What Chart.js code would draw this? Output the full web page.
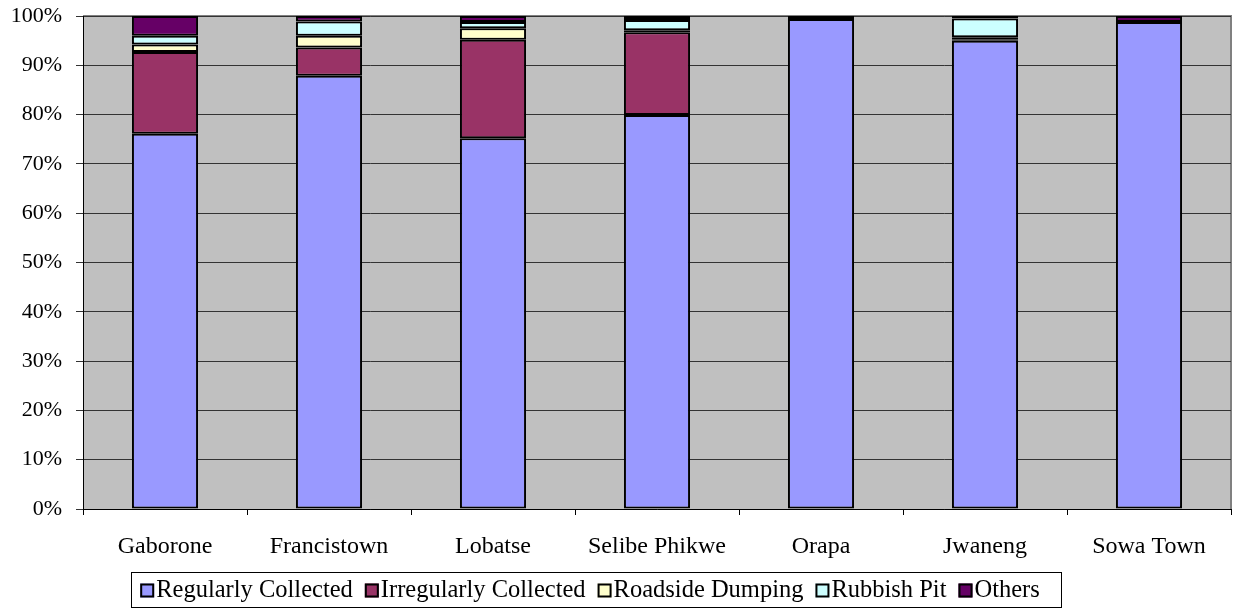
<!DOCTYPE html>
<html>
<head>
<meta charset="utf-8">
<script src="https://cdn.jsdelivr.net/npm/chart.js@4"></script>
<style>
  html, body { margin: 0; padding: 0; background: #fff; }
  #wrap { width: 1243px; height: 612px; }
</style>
</head>
<body>
<div id="wrap"><canvas id="wasteChart" width="1243" height="612"></canvas></div>
<script>
const towns = ['Gaborone', 'Francistown', 'Lobatse', 'Selibe Phikwe', 'Orapa', 'Jwaneng', 'Sowa Town'];
const regularlyCollected = [76.1, 87.9, 75.2, 79.9, 99.4, 95.0, 98.8];
const irregularlyCollected = [16.6, 5.7, 20.0, 16.8, 0, 0.3, 0];
const roadsideDumping = [1.5, 2.4, 2.3, 0.4, 0, 0.4, 0];
const rubbishPit = [1.8, 2.9, 1.3, 2.1, 0, 3.8, 0];
const others = [4.0, 1.1, 1.2, 0.8, 0.6, 0.5, 1.2];
const yTicks = [0, 10, 20, 30, 40, 50, 60, 70, 80, 90, 100];

const serif = '"Liberation Serif", "Times New Roman", serif';

function series(label, data, color) {
    return {
        label: label,
        data: data,
        backgroundColor: color,
        borderColor: '#000',
        borderWidth: 2,
        borderSkipped: false,
        barPercentage: 0.403,
        categoryPercentage: 1
    };
}

// grey plot background + outer frame
const plotArea = {
    id: 'plotArea',
    beforeDraw(chart) {
        const { ctx, chartArea: a } = chart;
        ctx.save();
        ctx.fillStyle = '#C0C0C0';
        ctx.fillRect(a.left, a.top, a.right - a.left, a.bottom - a.top);
        ctx.strokeStyle = '#808080';
        ctx.lineWidth = 2;
        ctx.beginPath();
        ctx.moveTo(a.left, a.top);
        ctx.lineTo(a.right, a.top);
        ctx.lineTo(a.right, a.bottom);
        ctx.stroke();
        ctx.restore();
    }
};

// boxed legend like the Excel one
const boxLegend = {
    id: 'boxLegend',
    afterDraw(chart) {
        const ctx = chart.ctx;
        const sets = chart.data.datasets;
        ctx.save();
        ctx.font = '24.5px ' + serif;
        const box = 14, gapText = 2, gapItem = 12;
        let total = 0;
        sets.forEach((ds, i) => {
            total += box + gapText + ctx.measureText(ds.label).width;
            if (i < sets.length - 1) total += gapItem;
        });
        const frameLeft = 131, frameRight = 1061, frameTop = 572, frameBottom = 607;
        ctx.strokeStyle = '#000';
        ctx.lineWidth = 1;
        ctx.strokeRect(frameLeft + 0.5, frameTop + 0.5, frameRight - frameLeft, frameBottom - frameTop);
        let x = (frameLeft + frameRight) / 2 - total / 2 - 6;
        const cy = (frameTop + frameBottom) / 2 + 1;
        sets.forEach(ds => {
            ctx.fillStyle = ds.backgroundColor;
            ctx.fillRect(x, cy - box / 2, box, box);
            ctx.lineWidth = 2;
            ctx.strokeStyle = '#000';
            ctx.strokeRect(x + 1, cy - box / 2 + 1, box - 2, box - 2);
            x += box + gapText;
            ctx.fillStyle = '#000';
            ctx.textBaseline = 'middle';
            ctx.fillText(ds.label, x, cy);
            x += ctx.measureText(ds.label).width + gapItem;
        });
        ctx.restore();
    }
};

new Chart(document.getElementById('wasteChart'), {
    type: 'bar',
    data: {
        labels: towns,
        datasets: [
            series('Regularly Collected', regularlyCollected, '#9999FF'),
            series('Irregularly Collected', irregularlyCollected, '#993366'),
            series('Roadside Dumping', roadsideDumping, '#FFFFCC'),
            series('Rubbish Pit', rubbishPit, '#CCFFFF'),
            series('Others', others, '#660066')
        ]
    },
    options: {
        responsive: false,
        animation: false,
        layout: { padding: { top: 16, right: 12, left: 0, bottom: 0 } },
        plugins: {
            legend: { display: false },
            tooltip: { enabled: false }
        },
        scales: {
            x: {
                stacked: true,
                grid: { offset: true, drawOnChartArea: false, drawTicks: true, tickLength: 6, color: '#000' },
                border: { color: '#000', width: 1 },
                ticks: { color: '#000', padding: 17, maxRotation: 0, font: { family: serif, size: 24 } },
                afterFit(scale) { scale.height = 103; }
            },
            y: {
                stacked: true,
                min: 0,
                max: 100,
                afterBuildTicks(scale) { scale.ticks = yTicks.map(v => ({ value: v })); },
                grid: { color: '#333', lineWidth: 1, tickLength: 7 },
                border: { color: '#000', width: 1 },
                ticks: {
                    color: '#000',
                    padding: 14,
                    font: { family: serif, size: 22 },
                    callback: v => v + '%'
                },
                afterFit(scale) {
                    scale.width = 83;
                    scale.paddingTop = 0;
                    scale.paddingBottom = 0;
                }
            }
        }
    },
    plugins: [plotArea, boxLegend]
});
</script>
</body>
</html>
